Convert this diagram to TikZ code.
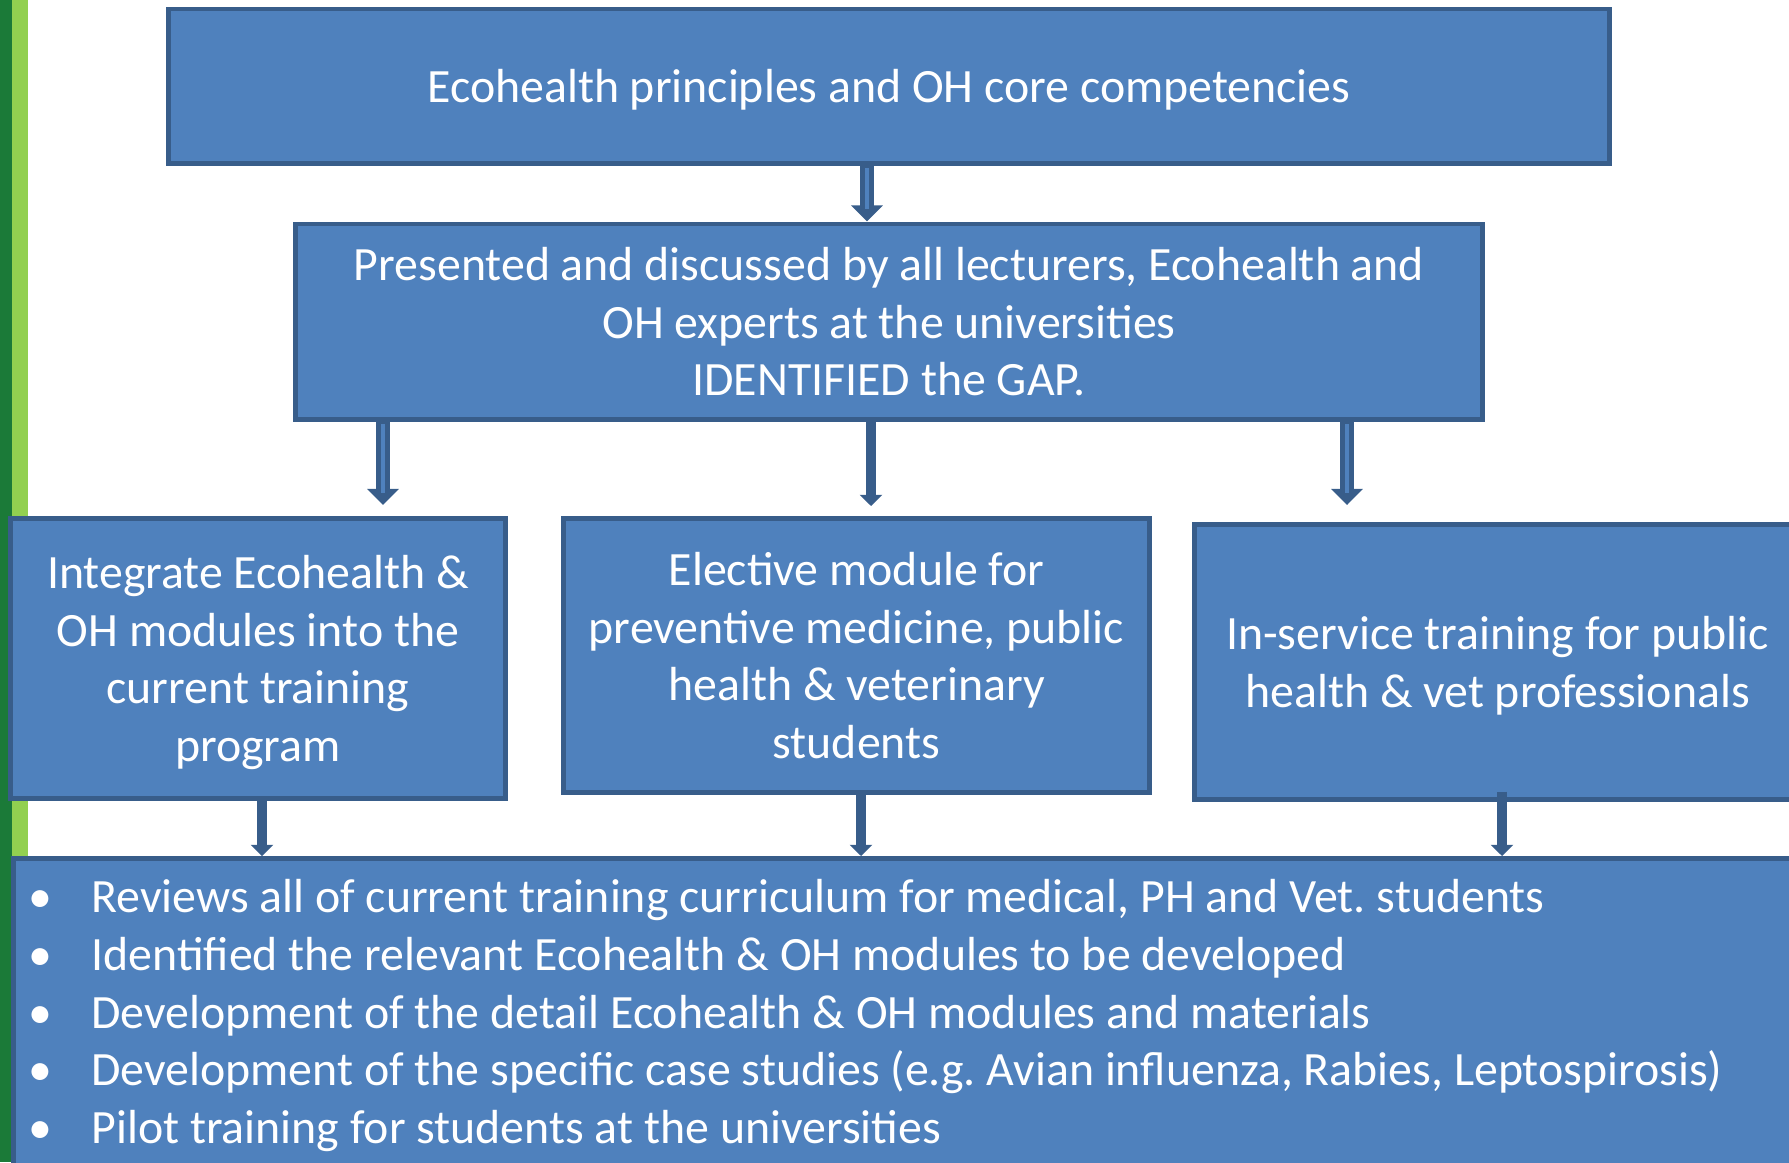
\documentclass[tikz,border=0pt]{standalone}
\usepackage{fontspec}
\setmainfont{Carlito}
\usetikzlibrary{arrows.meta}
\definecolor{boxfill}{HTML}{4F81BD}
\definecolor{edge}{HTML}{385D8A}
\definecolor{darkgreen}{HTML}{1B7A38}
\definecolor{lightgreen}{HTML}{92D050}
\begin{document}
\begin{tikzpicture}[x=0.01cm, y=-0.01cm,
  box/.style = {shape=rectangle, draw=edge, fill=boxfill, line width=1.4pt,
    text=white, align=center, inner sep=0pt, text depth=0pt,
    font=\fontsize{13.6}{16.4}\selectfont\frenchspacing},
  hollowarr/.style = {draw=edge, line width=4pt,
    -{Triangle[width=8.8pt,length=4.6pt]},
    postaction={draw=boxfill, line width=1.1pt, -, shorten >=3.5pt, shorten <=0.7pt}},
  solidarr/.style = {draw=edge, line width=2.85pt,
    -{Triangle[width=6.3pt,length=3.2pt]}},
 ]
 \useasboundingbox (0,0) rectangle (1789,1162);
 \clip (0,0) rectangle (1789,1162);
 \fill[darkgreen] (0,0) rectangle (12,1162);
 \fill[lightgreen] (12,0) rectangle (28,1162);

 \node[box, minimum width=14.4cm, minimum height=1.54cm] (eco) at (889,86)
   {Ecohealth principles and OH core competencies};
 \node[box, minimum width=11.86cm, minimum height=1.95cm] (gap) at (889,321.5)
   {Presented and discussed by all lecturers, Ecohealth and\\
    OH experts at the universities\\IDENTIFIED the GAP.};
 \node[box, minimum width=4.94cm, minimum height=2.79cm] (integ) at (258,658.5)
   {Integrate Ecohealth \&\\OH modules into the\\current training\\program};
 \node[box, minimum width=5.85cm, minimum height=2.73cm] (elect) at (856.5,655.5)
   {Elective module for\\preventive medicine, public\\health \& veterinary\\students};
 \node[box, minimum width=6.05cm, minimum height=2.74cm] (inserv) at (1497.5,662)
   {In-service training for public\\health \& vet professionals};
 \node[box, anchor=north west, align=flush left, text width=17.6cm, text depth=,
   inner xsep=0.15cm, inner ysep=0.21cm] (tasks) at (11,856)
   {\makebox[0.63cm][l]{\textbullet}Reviews all of current training curriculum for medical, PH and Vet. students\\
    \makebox[0.63cm][l]{\textbullet}Identified the relevant Ecohealth \& OH modules to be developed\\
    \makebox[0.63cm][l]{\textbullet}Development of the detail Ecohealth \& OH modules and materials\\
    \makebox[0.63cm][l]{\textbullet}Development of the specific case studies (e.g. Avian influenza, Rabies, Leptospirosis)\\
    \makebox[0.63cm][l]{\textbullet}Pilot training for students at the universities\\[0.3cm]};

 \coordinate (tipL) at (383,505);
 \coordinate (tipM) at (871,506);
 \coordinate (tipR) at (1347,505);
 \draw[hollowarr] ([xshift=-0.22cm]eco.south) -- ([xshift=-0.22cm]gap.north);
 \draw[hollowarr] (gap.south -| tipL) -- (tipL);
 \draw[solidarr] (gap.south -| tipM) -- (tipM);
 \draw[hollowarr] (gap.south -| tipR) -- (tipR);
 \draw[solidarr] ([xshift=0.04cm]integ.south) -- ([xshift=0.04cm]integ.south |- tasks.north);
 \draw[solidarr] ([xshift=0.045cm]elect.south) -- ([xshift=0.045cm]elect.south |- tasks.north);
 \draw[solidarr] ([xshift=0.045cm,yshift=0.1cm]inserv.south) -- ([xshift=0.045cm]inserv.south |- tasks.north);
\end{tikzpicture}
\end{document}
